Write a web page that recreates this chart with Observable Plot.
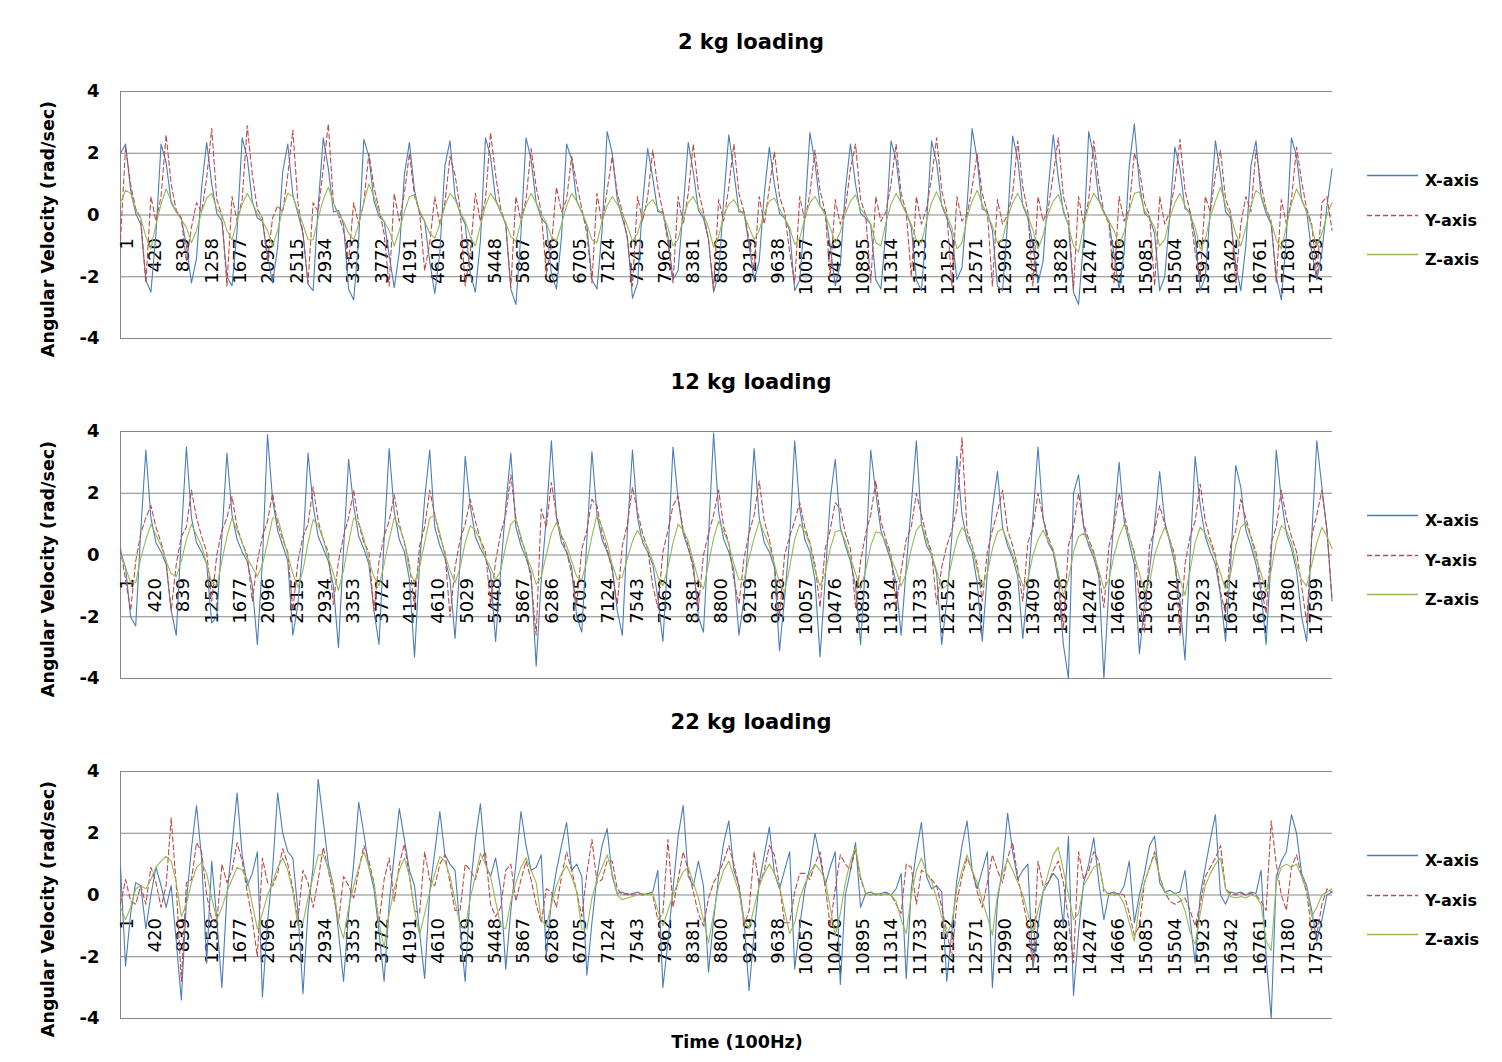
<!DOCTYPE html>
<html>
<head>
<meta charset="utf-8">
<script src="https://cdn.jsdelivr.net/npm/d3@7"></script>
<script src="https://cdn.jsdelivr.net/npm/@observablehq/plot@0.6"></script>
<style>
  html, body { margin: 0; padding: 0; background: #ffffff; }
  body { font-family: "DejaVu Sans", Verdana, sans-serif; color: #000; }
  #chart { position: relative; width: 1502px; height: 1062px; overflow: hidden; background: #fff; }
  .ptitle { position: absolute; left: 0; width: 1502px; text-align: center; font-weight: bold; font-size: 21px; line-height: 24px; }
  .plotbox { position: absolute; left: 0; }
  .leg { position: absolute; left: 1366px; height: 20px; }
  .leg svg { position: absolute; left: 0; top: 0; }
  .leg span { position: absolute; left: 59px; top: 0; font-size: 16px; font-weight: bold; line-height: 20px; white-space: nowrap; }
  .xtitle { position: absolute; left: 637px; width: 200px; text-align: center; top: 1031px; font-weight: bold; font-size: 17.5px; line-height: 22px; }
</style>
</head>
<body>
<div id="chart"></div>
<script>
// ---------------- data ----------------
const panelTitles = ["2 kg loading", "12 kg loading", "22 kg loading"];
const seriesNames = ["X-axis", "Y-axis", "Z-axis"];
const yAxisTitle = "Angular Velocity (rad/sec)";
const xAxisTitle = "Time (100Hz)";
const xTickLabels = [1,420,839,1258,1677,2096,2515,2934,3353,3772,4191,4610,5029,5448,5867,6286,6705,7124,7543,7962,8381,8800,9219,9638,10057,10476,10895,11314,11733,12152,12571,12990,13409,13828,14247,14666,15085,15504,15923,16342,16761,17180,17599];
const yTicks = [-4, -2, 0, 2, 4];
const lastSample = 17933;   // number of samples on the category axis
const sampleStep = 75;      // readings below are taken every 75 samples

// 2 kg loading
const x2kg = [2.0,2.3,0.8,0.05,-0.3,-2.1,-2.5,-0.6,2.3,1.7,
0.4,0.1,-0.1,-1.0,-2.2,-1.4,0.9,2.35,1.0,0.05,
-0.2,-2.0,-2.3,-0.5,2.5,1.85,0.45,-0.1,-0.2,-1.3,
-2.2,-1.05,1.4,2.3,0.65,0.05,-0.6,-2.25,-2.45,0.3,
2.5,1.5,0.1,0.15,-0.3,-2.4,-2.75,-0.75,2.45,1.9,
0.45,-0.05,-0.2,-1.3,-2.35,-1.2,1.3,2.35,0.8,0.05,
-0.2,-1.5,-2.55,-1.2,1.6,2.4,0.6,0.05,-0.3,-1.9,
-2.5,-0.85,2.5,1.9,0.5,0.1,-0.3,-2.4,-2.9,-0.6,
2.5,1.8,0.4,-0.1,-0.3,-1.9,-2.4,-0.7,2.3,1.8,
0.45,0.1,-0.35,-2.1,-2.4,-0.5,2.7,2.0,0.5,-0.1,
-0.7,-2.7,-2.2,0.4,2.15,1.2,0.1,0.1,-0.7,-2.1,
-1.8,0.2,2.35,1.4,0.15,-0.1,-0.8,-2.5,-1.9,0.5,
2.6,1.4,0.1,0.1,-1.0,-2.1,-1.5,0.7,2.2,1.0,
0.05,-0.1,-0.5,-2.45,-2.1,0.0,2.67,1.7,0.3,0.1,
-1.0,-2.3,-1.6,0.8,2.3,1.0,0.05,-0.1,-0.3,-2.1,
-2.4,-0.5,2.4,1.8,0.4,0.1,-0.4,-2.1,-2.45,-0.3,
2.4,1.7,0.3,-0.1,-0.6,-2.1,-1.7,0.3,2.8,1.8,
0.2,0.1,-0.5,-2.3,-2.45,-0.2,2.56,1.8,0.3,-0.1,
-1.0,-2.2,-1.5,0.8,2.6,1.2,0.1,-0.3,-2.5,-2.9,
-0.8,2.7,1.9,0.5,0.1,-0.2,-1.3,-2.4,-1.2,1.6,
2.95,1.0,0.05,-0.1,-0.6,-2.45,-2.0,0.0,2.2,1.5,
0.2,0.1,-0.7,-2.45,-2.0,0.2,2.4,1.3,0.1,-0.1,
-1.6,-2.45,-1.0,1.6,2.4,0.6,0.05,-0.3,-2.0,-2.75,
-0.7,2.5,1.9,0.5,0.1,-1.2,-2.1,-1.2,0.3,1.5];
const y2kg = [-0.8,2.2,1.0,0.2,-0.1,-2.2,0.6,-0.2,0.6,2.6,
1.0,0.15,-0.1,-1.5,-0.4,0.4,0.1,1.2,2.8,0.5,
0.0,-2.3,0.6,-0.2,0.5,2.9,1.3,0.2,-0.1,-1.5,
-0.1,0.3,0.1,1.3,2.75,0.4,-0.6,-2.2,0.4,0.1,
1.5,2.95,0.4,0.0,-0.5,-1.5,0.4,-0.3,0.4,2.0,
0.9,0.2,-0.6,-2.3,0.7,-0.2,0.7,2.0,0.6,0.1,
-1.8,-0.9,0.6,-0.3,0.4,1.9,1.3,0.2,-2.3,-1.2,
0.7,-0.2,0.5,2.67,1.3,0.2,-0.3,-2.35,0.6,-0.2,
0.5,2.15,0.9,0.1,-1.9,-1.0,0.9,0.1,0.5,1.9,
1.0,0.2,-0.6,-2.2,0.7,-0.3,0.8,1.9,0.7,0.1,
-0.8,-2.3,0.6,-0.2,0.6,2.1,0.9,0.1,-0.9,-2.2,
0.6,-0.3,0.7,2.3,0.8,0.1,-0.8,-2.4,0.5,-0.2,
0.9,2.3,0.7,0.1,-0.8,-1.8,0.6,-0.3,0.9,2.05,
0.6,0.1,-1.2,-2.2,0.6,-0.2,0.7,2.1,0.8,0.1,
-2.0,0.5,-0.3,0.2,1.5,2.3,0.5,0.0,-2.2,0.6,
-0.2,0.1,1.0,2.3,0.7,0.1,-2.0,0.6,-0.3,0.2,
1.2,2.5,0.8,0.1,-2.3,0.6,-0.2,0.0,0.9,1.97,
0.7,0.1,-2.3,0.5,-0.3,0.0,0.7,2.4,0.9,0.1,
-2.3,0.6,-0.2,0.2,1.3,2.5,0.6,0.0,-2.4,0.6,
-0.3,0.5,2.4,1.0,0.1,-0.3,-2.2,0.6,-0.2,0.2,
2.0,1.5,0.4,0.0,-2.3,0.6,-0.3,0.1,1.0,2.45,
0.8,0.1,-1.2,-2.0,0.6,0.1,1.3,2.1,0.5,0.1,
-2.2,-0.3,0.6,0.1,2.1,1.0,0.2,-0.2,-2.2,0.5,
-0.3,0.5,2.2,1.1,0.2,-0.3,-2.0,0.4,0.6,-0.5];
const z2kg = [0.4,0.8,0.7,0.15,-0.1,-0.7,-1.1,-0.3,0.35,0.85,
0.45,0.1,-0.15,-0.4,-0.9,-0.5,0.1,0.55,0.7,0.2,
0.0,-0.5,-0.8,-0.2,0.35,0.7,0.4,0.05,-0.2,-0.5,
-1.0,-0.5,0.2,0.7,0.6,0.15,-0.3,-0.8,-0.8,-0.1,
0.5,0.9,0.4,0.0,-0.2,-0.6,-0.8,-0.3,0.4,1.0,
0.6,0.1,-0.2,-0.5,-1.0,-0.5,0.1,0.6,0.65,0.15,
-0.2,-0.6,-0.75,-0.3,0.3,0.7,0.5,0.1,-0.2,-0.7,
-1.0,-0.35,0.3,0.7,0.45,0.1,-0.25,-0.7,-0.85,-0.2,
0.35,0.7,0.4,0.05,-0.25,-0.7,-0.85,-0.3,0.3,0.7,
0.45,0.1,-0.3,-0.8,-0.9,-0.2,0.3,0.6,0.35,0.05,
-0.35,-0.85,-0.6,0.0,0.35,0.5,0.2,0.0,-0.4,-1.0,
-0.8,-0.1,0.4,0.6,0.25,0.0,-0.4,-1.05,-0.7,0.0,
0.35,0.5,0.2,0.0,-0.4,-0.8,-0.5,0.05,0.45,0.55,
0.2,-0.1,-0.4,-0.95,-0.75,-0.1,0.4,0.6,0.3,0.0,
-0.4,-0.9,-0.55,0.05,0.45,0.65,0.2,0.0,-0.3,-0.9,
-1.0,-0.25,0.35,0.7,0.4,0.05,-0.3,-0.8,-0.9,-0.2,
0.4,0.75,0.35,0.0,-0.4,-1.1,-0.9,-0.1,0.45,0.8,
0.35,0.0,-0.35,-0.9,-0.8,-0.1,0.4,0.7,0.35,0.0,
-0.5,-1.1,-0.65,0.05,0.45,0.65,0.2,-0.35,-1.0,-1.2,
-0.35,0.3,0.7,0.45,0.05,-0.2,-0.5,-1.0,-0.55,0.15,
0.7,0.75,0.15,-0.1,-0.4,-1.0,-0.8,-0.1,0.4,0.7,
0.3,0.0,-0.4,-1.1,-0.8,-0.05,0.45,0.9,0.3,0.0,
-0.6,-1.0,-0.4,0.3,0.8,0.65,0.15,-0.25,-0.8,-1.1,
-0.35,0.35,0.85,0.5,0.1,-0.4,-1.0,-0.6,0.0,0.4];

// 12 kg loading
const x12kg = [0.1,-0.4,-2.0,-2.3,0.8,3.4,1.2,0.4,0.1,-0.3,
-1.8,-2.6,0.6,3.5,1.2,0.4,0.1,-0.3,-2.2,-2.0,
0.6,3.3,1.3,0.5,0.1,-0.2,-1.0,-2.9,-0.2,3.9,
1.8,0.8,0.3,-0.2,-2.6,-1.6,0.3,3.3,1.6,0.6,
0.2,-0.2,-1.0,-3.0,0.2,3.1,1.6,0.6,0.2,-0.3,
-1.8,-2.9,0.5,3.45,1.4,0.5,0.1,-0.8,-3.3,-0.3,
1.8,3.4,0.9,0.3,-0.1,-0.8,-2.7,-0.2,3.2,1.6,
0.6,0.2,-0.1,-0.6,-2.8,-0.5,1.6,3.3,0.9,0.3,
-0.1,-0.6,-3.6,-0.8,1.2,3.7,1.2,0.4,0.1,-0.4,
-2.0,-2.5,0.5,3.35,1.3,0.5,0.1,-0.4,-1.8,-2.6,
0.8,3.4,1.2,0.4,0.1,-0.3,-1.4,-2.8,0.0,3.5,
1.8,0.7,0.2,-0.3,-2.0,-2.5,0.6,3.95,1.4,0.5,
0.1,-0.5,-2.6,-1.4,0.8,3.45,1.2,0.4,0.1,-0.4,
-3.1,-1.4,0.5,3.7,1.5,0.5,0.1,-0.8,-3.3,-0.8,
1.8,3.1,0.9,0.3,-0.2,-1.0,-2.9,-0.2,3.4,2.0,
0.8,0.3,-0.2,-0.9,-2.6,-0.4,1.6,3.7,1.0,0.3,
0.0,-0.6,-2.9,-1.5,0.6,3.2,1.3,0.5,0.1,-0.9,
-2.8,-0.6,1.5,2.7,0.9,0.3,-0.1,-0.7,-2.7,-1.0,
1.2,3.5,1.2,0.4,0.1,-0.8,-2.9,-4.0,2.0,2.6,
0.9,0.3,-0.1,-0.7,-4.0,-1.0,1.2,3.0,1.1,0.4,
-0.3,-3.2,-1.6,-0.5,1.0,2.7,1.1,0.4,-0.3,-1.5,
-3.4,0.0,3.2,1.6,0.6,0.1,-0.3,-1.3,-2.8,-0.3,
2.9,2.2,0.8,0.3,-0.3,-1.2,-2.9,0.0,3.4,1.8,
0.7,0.2,-0.5,-2.0,-2.8,0.6,3.7,2.2,0.8,-1.5];
const y12kg = [0.2,-0.8,-1.8,-0.2,0.7,1.2,1.6,0.9,0.4,-0.2,
-1.8,-0.3,0.6,0.9,2.1,1.2,0.6,0.1,-1.5,0.0,
0.8,1.2,1.9,0.9,0.4,0.0,-1.5,-0.2,0.6,1.1,
2.0,1.0,0.5,0.1,-1.8,-0.2,0.6,1.0,2.2,1.1,
0.5,0.1,-1.6,-0.2,0.6,1.2,2.1,1.0,0.4,0.1,
-1.8,-0.2,0.6,1.1,1.95,1.0,0.4,-0.3,-1.7,0.3,
0.9,2.1,1.3,0.6,0.1,-2.0,-0.4,0.5,1.0,1.8,
1.1,0.5,0.1,-1.6,-0.2,0.7,1.3,2.6,1.2,0.5,
0.1,-0.8,-2.6,1.5,0.9,2.35,1.3,0.6,0.1,-0.6,
-1.6,0.2,0.8,1.8,1.6,0.7,0.2,-0.5,-1.6,0.3,
1.0,2.2,1.4,0.7,0.2,-1.0,-1.7,0.1,0.8,1.6,
1.9,0.8,0.3,-0.5,-1.7,0.0,0.7,1.3,2.1,0.9,
0.4,-0.8,-1.6,-0.1,0.7,1.3,2.4,1.1,0.5,-0.3,
-2.0,0.0,0.6,1.1,1.7,0.9,0.4,-0.3,-1.7,0.2,
0.8,1.7,1.5,0.7,0.2,-1.7,-0.2,0.7,1.3,2.4,
1.1,0.5,0.0,-1.7,-0.5,0.5,0.9,2.0,1.3,0.6,
0.1,-1.6,-0.4,0.3,0.8,1.5,3.8,0.8,0.3,-0.3,
-1.5,0.1,0.8,1.4,2.1,0.8,0.3,-0.4,-1.5,0.4,
0.9,2.0,1.2,0.6,0.1,-0.6,-2.4,0.3,0.9,2.0,
1.0,0.5,0.1,-0.6,-1.7,0.3,0.9,2.0,1.3,0.6,
0.1,-1.5,-2.5,0.3,0.8,1.6,1.0,0.5,0.0,-2.6,
-0.3,0.6,1.1,2.3,1.1,0.5,0.0,-1.2,-1.9,0.3,
0.8,1.8,1.2,0.6,0.1,-1.0,-1.9,0.4,0.9,2.1,
1.2,0.6,0.1,-1.0,-2.2,0.6,1.3,2.1,0.8,-1.4];
const z12kg = [0.0,-0.4,-0.9,-0.9,-0.1,0.5,1.0,0.65,0.3,-0.2,
-0.6,-0.7,-0.2,0.5,1.0,0.65,0.3,-0.3,-0.9,-1.0,
-0.2,0.6,1.2,0.8,0.4,-0.1,-0.4,-0.7,-0.3,0.4,
1.2,1.2,0.6,0.0,-0.6,-1.05,-0.5,0.4,1.15,0.95,
0.5,-0.1,-0.6,-1.15,-0.5,0.4,1.2,1.05,0.55,-0.2,
-0.7,-1.0,-0.3,0.5,1.2,0.9,0.45,-0.5,-0.9,-0.4,
0.4,1.2,1.3,0.7,0.0,-0.5,-0.9,-0.4,0.4,0.95,
0.8,0.45,-0.1,-0.4,-0.8,-0.5,0.3,1.0,1.15,0.6,
0.0,-0.4,-0.95,-0.7,0.0,0.7,1.05,0.65,0.3,-0.2,
-0.7,-0.8,-0.2,0.6,1.3,0.9,0.4,-0.3,-0.8,-0.7,
-0.1,0.45,0.8,0.5,0.25,-0.2,-0.7,-1.0,-0.4,0.4,
1.0,0.8,0.45,-0.2,-0.8,-1.1,-0.3,0.55,1.1,0.75,
0.35,-0.3,-0.8,-0.8,-0.1,0.55,1.1,0.7,0.3,-0.3,
-0.9,-1.2,-0.4,0.5,1.0,0.75,0.35,-0.5,-1.0,-0.6,
0.2,0.75,0.8,0.45,-0.1,-0.6,-1.1,-0.5,0.3,0.75,
0.7,0.4,-0.1,-0.5,-1.0,-0.6,0.2,0.8,1.0,0.5,
0.0,-0.5,-1.1,-1.0,-0.2,0.5,0.9,0.65,0.3,-0.5,
-1.0,-0.6,0.2,0.75,0.85,0.45,0.0,-0.5,-1.0,-0.8,
0.0,0.5,0.8,0.45,0.2,-0.6,-1.3,-0.8,0.1,0.6,
0.7,0.4,0.0,-0.5,-1.1,-0.8,0.0,0.6,1.0,0.6,
0.0,-0.6,-1.2,-0.9,0.0,0.5,0.9,0.5,-0.2,-0.8,
-1.3,-0.5,0.4,0.9,0.7,0.35,-0.1,-0.6,-1.1,-0.6,
0.3,0.9,1.05,0.55,-0.1,-0.6,-1.2,-0.5,0.4,0.95,
0.8,0.4,-0.3,-0.8,-1.0,-0.3,0.4,0.9,0.6,0.2];

// 22 kg loading
const x22kg = [0.9,-2.3,-0.6,0.4,0.3,-1.1,0.0,0.9,0.3,-0.4,
0.3,-1.5,-3.4,-0.2,1.5,2.9,1.2,-2.2,1.1,-0.8,
-3.0,0.0,1.6,3.3,1.3,0.3,0.7,1.4,-3.3,-0.9,
0.8,3.3,2.0,1.4,1.2,-0.5,-3.2,-0.5,0.9,3.75,
2.4,1.0,0.3,-1.2,-2.8,-0.6,1.0,3.0,2.0,0.9,
0.2,-1.2,-2.8,-0.3,1.3,2.8,1.8,0.8,0.3,-1.2,
-2.7,0.1,1.4,2.7,1.3,1.0,0.8,-1.1,-2.8,0.2,
1.8,2.95,1.0,0.6,1.2,0.2,-2.4,-0.5,1.0,2.7,
1.6,0.8,0.9,1.3,-1.97,-0.2,0.8,1.6,2.35,0.8,
1.0,0.6,-2.6,-0.9,0.6,1.6,2.15,0.6,0.05,0.1,
0.0,0.05,0.1,0.0,0.05,0.1,0.8,-3.0,-1.5,0.2,
1.9,2.9,0.6,0.3,1.1,0.3,-2.5,-0.8,0.6,1.7,
2.4,0.8,0.3,-0.8,-3.1,-1.2,0.4,1.3,2.2,0.7,
0.2,0.8,1.4,-2.4,-1.0,0.2,0.9,2.0,1.2,0.3,
0.9,1.4,-2.9,0.0,0.8,1.7,-0.4,0.05,0.1,0.0,
0.05,0.1,0.0,0.2,0.7,-2.7,0.2,1.4,2.35,0.6,
0.2,0.3,0.1,-2.8,-1.2,0.5,1.6,2.4,0.8,0.2,
0.8,1.4,-3.0,-0.2,0.9,2.65,1.4,0.5,0.8,1.0,
-2.4,-1.0,0.1,0.4,0.7,0.5,-1.0,1.9,-3.25,-1.2,
0.4,1.0,1.85,0.4,-0.8,0.05,0.1,0.0,0.3,1.1,
-0.9,0.0,0.7,1.6,1.9,0.4,0.1,0.15,0.05,0.1,
0.8,-0.8,-2.2,0.0,0.9,1.8,2.6,0.0,-0.3,0.1,
0.05,0.1,0.0,0.1,0.05,0.8,-2.0,-4.0,0.6,1.1,
1.4,2.6,2.0,0.7,0.3,-0.5,-1.5,-0.8,0.0,0.1];
const y22kg = [-0.3,0.5,-0.2,-0.3,0.3,-0.3,0.9,0.4,-0.4,0.3,
2.5,0.3,-2.8,0.4,0.5,1.7,1.4,0.0,-0.8,-0.9,
1.0,0.4,0.8,1.7,1.1,0.1,-0.8,-2.0,1.2,0.4,
0.3,0.7,1.5,1.0,0.2,-0.8,0.8,0.4,-0.4,0.5,
1.55,0.8,0.0,-0.9,0.6,0.3,-0.1,0.8,1.6,1.1,
0.4,-0.9,0.5,1.2,-0.2,1.0,1.65,0.6,-0.5,-0.6,
1.4,0.5,0.3,1.0,1.3,0.4,-0.5,-0.5,1.0,0.8,
0.5,1.1,1.4,-0.3,-0.7,-0.4,0.8,1.0,-0.2,0.5,
1.1,0.5,-0.3,-0.9,0.2,0.1,-0.4,0.6,1.4,0.8,
0.1,-0.7,0.7,1.8,0.4,0.5,1.1,1.1,0.2,0.0,
0.05,0.0,0.05,0.0,0.05,0.0,-0.8,-0.6,1.8,-0.4,
0.5,1.4,0.8,0.1,-0.6,-1.0,-0.1,0.4,0.7,1.1,
1.6,1.0,0.3,-1.0,-0.5,1.4,0.3,0.8,1.6,1.3,
0.3,-0.9,-0.9,0.1,0.7,0.7,0.5,1.0,1.4,0.3,
-1.0,0.2,1.3,1.0,0.8,1.5,0.5,0.05,0.0,0.05,
0.0,0.05,0.0,-0.3,-0.6,1.0,0.9,-0.3,0.8,0.7,
0.5,0.3,-0.4,-1.2,-2.0,-0.2,0.6,1.2,0.8,0.1,
-0.4,0.4,1.3,0.8,0.4,1.2,1.7,0.6,-0.2,-1.0,
-2.3,1.1,0.3,0.4,0.8,1.1,0.4,-0.8,-2.2,1.4,
0.5,0.8,1.4,1.1,0.1,0.05,0.0,0.05,0.0,-0.6,
-1.3,-1.0,0.4,0.9,1.4,0.6,0.1,-0.2,-0.3,-0.2,
-0.1,-0.5,-1.0,-0.3,0.6,0.9,1.2,1.6,0.2,0.05,
0.0,0.05,0.0,0.05,0.0,-0.2,-0.5,2.4,1.0,0.0,
-0.5,0.9,1.3,0.6,0.1,-1.2,-1.3,-0.3,0.2,0.1];
const z22kg = [-0.4,-0.8,-0.4,0.2,0.3,0.2,0.5,0.9,1.1,1.25,
1.1,0.4,-0.7,-0.3,0.4,0.9,1.05,0.7,-0.1,-0.8,
-0.4,0.1,0.5,0.9,0.8,0.5,-0.3,-1.1,-0.6,0.0,
0.4,0.9,1.2,0.8,0.1,-1.0,-0.9,-0.1,0.6,1.3,
1.3,0.85,0.3,-0.9,-1.4,-0.4,0.3,0.9,1.4,0.9,
0.4,-0.9,-1.7,-0.6,0.2,0.8,1.2,0.6,-0.5,-1.3,
-0.6,0.1,0.7,1.25,1.1,0.6,-0.2,-1.0,-1.1,-0.1,
0.6,1.35,1.0,0.6,-0.2,-1.0,-1.1,-0.2,0.4,0.9,
1.2,0.8,0.4,-0.8,-1.0,-0.3,0.3,0.7,0.95,0.6,
0.1,-1.1,-1.1,-0.1,0.5,0.9,1.3,0.7,0.0,-0.15,
-0.1,-0.05,0.0,0.05,0.0,0.05,-0.5,-1.0,-0.5,0.0,
0.4,0.75,0.9,0.4,-0.1,-0.8,-1.55,-0.6,0.3,0.8,
1.1,0.6,0.1,-0.8,-1.1,-0.4,0.3,0.7,1.0,0.7,
0.3,-0.5,-1.25,-0.9,-0.1,0.35,0.7,1.0,0.8,0.5,
-0.4,-1.3,-0.6,0.4,1.1,1.55,0.6,0.05,0.0,0.05,
0.0,0.05,0.0,-0.2,-0.8,-1.25,0.0,0.8,1.2,0.7,
0.45,-0.1,-0.7,-1.3,-0.9,0.2,0.8,1.3,0.8,0.4,
-0.2,-0.7,-1.3,0.0,0.7,1.15,0.8,0.4,0.0,-0.6,
-1.2,-0.5,0.1,0.7,1.3,1.55,0.8,0.0,-0.8,-0.6,
0.3,0.6,0.9,1.0,0.2,0.0,0.05,0.0,-0.3,-0.9,
-1.5,-0.3,0.4,0.9,1.3,0.6,0.1,0.0,0.05,-0.1,
-0.5,-1.2,-1.6,-0.6,0.3,0.7,1.0,1.2,0.2,-0.05,
-0.1,-0.05,-0.1,0.0,-0.05,-0.3,-1.5,-1.8,0.4,0.9,
1.0,0.9,1.0,0.6,0.2,-0.7,-0.4,0.0,0.1,0.2];

const panels = [
  {title: panelTitles[0], series: [x2kg, y2kg, z2kg]},
  {title: panelTitles[1], series: [x12kg, y12kg, z12kg]},
  {title: panelTitles[2], series: [x22kg, y22kg, z22kg]}
];

// ---------------- styling ----------------
const colors = ["#4A7EBB", "#BE4B48", "#98B954"];
const dashes = [null, "5,3", null];
const gridColor = "#878787";
const panelSpacing = 340;

const chart = document.getElementById("chart");

panels.forEach((p, pi) => {
  const top = pi * panelSpacing;

  const t = document.createElement("div");
  t.className = "ptitle";
  t.style.top = (top + 30) + "px";
  t.textContent = p.title;
  chart.appendChild(t);

  const toRows = arr => arr.map((v, i) => ({t: 1 + i * sampleStep, v}));

  const lineMarks = p.series.map((arr, si) => Plot.line(toRows(arr), {
    x: "t", y: "v",
    stroke: colors[si],
    strokeWidth: 1.1,
    strokeDasharray: dashes[si] || undefined,
    strokeLinejoin: "round"
  }));

  const svg = Plot.plot({
    width: 1340,
    height: 280,
    marginLeft: 120,
    marginRight: 8,
    marginTop: 11,
    marginBottom: 22,
    x: {type: "linear", domain: [1, lastSample], axis: null},
    y: {domain: [-4, 4], axis: null},
    style: {fontFamily: "'DejaVu Sans', Verdana, sans-serif", background: "transparent", overflow: "visible", color: "black"},
    marks: [
      Plot.ruleY(yTicks, {stroke: gridColor, strokeWidth: 1}),
      Plot.ruleX([1], {stroke: gridColor, strokeWidth: 1}),
      Plot.axisY({ticks: yTicks, tickSize: 0, tickPadding: 21, fontSize: 18, fontWeight: "bold", label: null, tickFormat: d => String(d), fill: "black"}),
      Plot.text([yAxisTitle], {frameAnchor: "left", textAnchor: "middle", dx: -72, dy: 14, rotate: -90, fontSize: 17.5, fontWeight: "bold", fill: "black"}),
      Plot.text(xTickLabels, {x: d => d, y: () => 0, text: d => String(d), rotate: -90, textAnchor: "end", dx: 6.5, dy: 23, fontSize: 18, fill: "black"}),
      ...lineMarks
    ]
  });
  const box = document.createElement("div");
  box.className = "plotbox";
  box.style.top = (top + 80) + "px";
  box.appendChild(svg);
  chart.appendChild(box);

  // legend
  const rowsY = [181, 221, 260];
  seriesNames.forEach((name, si) => {
    const row = document.createElement("div");
    row.className = "leg";
    row.style.top = (top + rowsY[si] - 10) + "px";
    row.style.width = "130px";
    const ns = "http://www.w3.org/2000/svg";
    const s = document.createElementNS(ns, "svg");
    s.setAttribute("width", "54");
    s.setAttribute("height", "20");
    const ln = document.createElementNS(ns, "line");
    ln.setAttribute("x1", "1"); ln.setAttribute("x2", "52");
    ln.setAttribute("y1", "4.5"); ln.setAttribute("y2", "4.5");
    ln.setAttribute("stroke", colors[si]);
    ln.setAttribute("stroke-width", "1.3");
    if (dashes[si]) ln.setAttribute("stroke-dasharray", dashes[si]);
    s.appendChild(ln);
    row.appendChild(s);
    const sp = document.createElement("span");
    sp.textContent = name;
    row.appendChild(sp);
    chart.appendChild(row);
  });
});

const xt = document.createElement("div");
xt.className = "xtitle";
xt.textContent = xAxisTitle;
chart.appendChild(xt);
</script>
</body>
</html>
